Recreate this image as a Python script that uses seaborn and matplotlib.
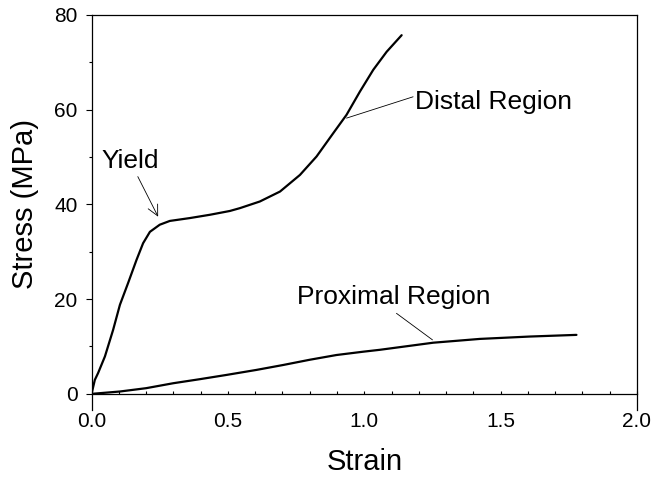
import matplotlib
matplotlib.use("Agg")
import matplotlib.pyplot as plt
import seaborn as sns
import pandas as pd
import numpy as np

distal_strain = [0, 0.012, 0.024, 0.049, 0.079, 0.104, 0.134, 0.165, 0.189, 0.214, 0.25, 0.287, 0.36, 0.434,
                 0.507, 0.544, 0.617, 0.691, 0.764, 0.825, 0.886, 0.935, 0.984, 1.033, 1.082, 1.137]
distal_stress = [0, 2.95, 4.4, 7.9, 13.5, 18.8, 23.4, 28.3, 31.8, 34.2, 35.7, 36.5, 37.1, 37.8,
                 38.6, 39.2, 40.6, 42.7, 46.2, 50.1, 55.0, 58.9, 63.8, 68.4, 72.2, 75.7]
prox_strain = [0, 0.104, 0.2, 0.3, 0.397, 0.495, 0.605, 0.703, 0.8, 0.898, 0.996, 1.057, 1.253, 1.424, 1.607, 1.778]
prox_stress = [0, 0.5, 1.2, 2.25, 3.1, 4.0, 5.06, 6.1, 7.2, 8.2, 8.9, 9.3, 10.8, 11.6, 12.1, 12.45]

sns.set_style("ticks")
plt.rcParams['font.family'] = ['Liberation Sans', 'DejaVu Sans']
plt.rcParams['text.color'] = 'black'
plt.rcParams['axes.labelcolor'] = 'black'
plt.rcParams['xtick.color'] = 'black'
plt.rcParams['ytick.color'] = 'black'

fig = plt.figure(figsize=(6.54, 4.78), dpi=100)
ax = fig.add_axes([0.140, 0.176, 0.834, 0.793])

df_d = pd.DataFrame({"Strain": distal_strain, "Stress": distal_stress})
df_p = pd.DataFrame({"Strain": prox_strain, "Stress": prox_stress})
sns.lineplot(data=df_d, x="Strain", y="Stress", sort=False, color="black", lw=1.6, ax=ax)
sns.lineplot(data=df_p, x="Strain", y="Stress", sort=False, color="black", lw=1.6, ax=ax)

ax.set_xlim(0, 2.0)
ax.set_ylim(0, 80)
ax.set_xticks(np.arange(0, 2.01, 0.5))
ax.set_xticklabels(["0.0", "0.5", "1.0", "1.5", "2.0"])
ax.set_xticks(np.arange(0, 2.01, 0.1), minor=True)
ax.set_yticks([0, 20, 40, 60, 80])
ax.set_yticks(np.arange(0, 81, 10), minor=True)

ax.tick_params(axis='x', which='both', direction='in', length=2.5, width=0.8, labelsize=15, pad=13,
               colors='black')
ax.tick_params(axis='y', which='major', direction='out', length=4.2, width=0.8, labelsize=15, pad=6,
               colors='black')
ax.tick_params(axis='y', which='minor', direction='out', length=2.4, width=0.8, colors='black')

for s in ax.spines.values():
    s.set_linewidth(0.9)
    s.set_color("black")
ax.spines['left'].set_bounds(-3.5, 80)
ax.spines['right'].set_bounds(-3.5, 80)

ax.set_xlabel("Strain", fontsize=21, labelpad=12, color='black')
ax.set_ylabel("Stress (MPa)", fontsize=21, labelpad=11, color='black')

ax.annotate("Yield", xy=(0.244, 37.4), xytext=(0.037, 47.6), fontsize=19, color='black',
            ha='left', va='baseline',
            arrowprops=dict(arrowstyle="->", lw=0.6, color="black", shrinkA=0, shrinkB=0,
                            relpos=(0.6, 0)))
ax.text(1.186, 60.1, "Distal Region", fontsize=19, ha='left', va='baseline', color='black')
ax.plot([1.179, 0.935], [62.7, 58.2], color="black", lw=0.6)
ax.text(0.753, 19.0, "Proximal Region", fontsize=19, ha='left', va='baseline', color='black')
ax.plot([1.118, 1.250], [17.0, 11.4], color="black", lw=0.6)

fig.savefig("out.png", dpi=100)
